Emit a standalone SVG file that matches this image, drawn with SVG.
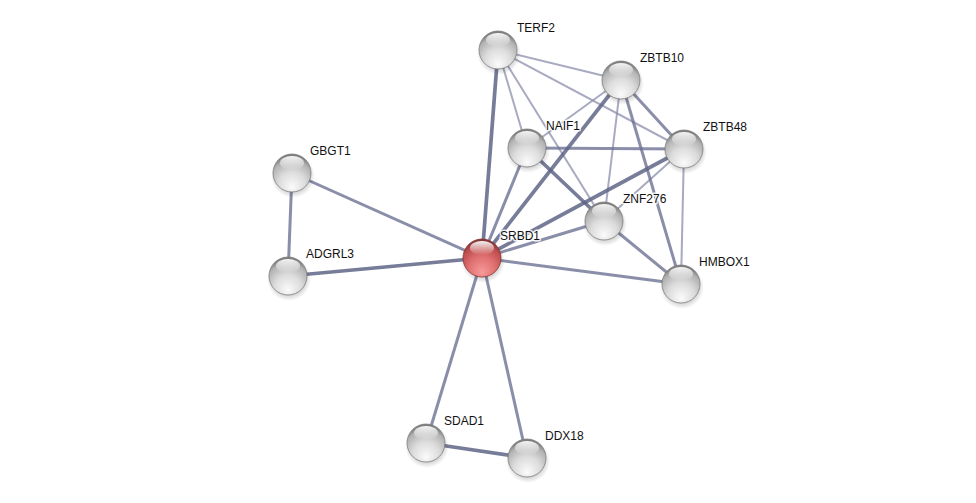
<svg xmlns="http://www.w3.org/2000/svg" width="976" height="503" viewBox="0 0 976 503">
<defs>
<radialGradient id="gw" cx="50%" cy="75%" r="70%" fx="50%" fy="88%">
<stop offset="0" stop-color="#fbfbfb"/>
<stop offset="0.5" stop-color="#dcdcdc"/>
<stop offset="0.85" stop-color="#b2b2b2"/>
<stop offset="1" stop-color="#7e7e7e"/>
</radialGradient>
<radialGradient id="gr" cx="50%" cy="75%" r="70%" fx="50%" fy="88%">
<stop offset="0" stop-color="#f79a9a"/>
<stop offset="0.5" stop-color="#e07070"/>
<stop offset="0.85" stop-color="#bd4d4d"/>
<stop offset="1" stop-color="#873535"/>
</radialGradient>
<linearGradient id="hl" x1="0" y1="0" x2="0" y2="1">
<stop offset="0" stop-color="#ffffff" stop-opacity="0.95"/>
<stop offset="1" stop-color="#ffffff" stop-opacity="0"/>
</linearGradient>
<radialGradient id="sh" cx="50%" cy="50%" r="50%">
<stop offset="0.6" stop-color="#000" stop-opacity="0.25"/>
<stop offset="1" stop-color="#000" stop-opacity="0"/>
</radialGradient>
</defs>
<style>
.e{fill:none;stroke-linecap:butt}
.t1{stroke:#5f6586;stroke-width:3.7;stroke-opacity:0.85}
.t2{stroke:#6d7292;stroke-width:3;stroke-opacity:0.8}
.t3{stroke:#8a8eab;stroke-width:2;stroke-opacity:0.75}
.lbl{font-family:"Liberation Sans",Arial,sans-serif;font-size:12px;fill:#111;stroke:#fff;stroke-width:3;stroke-opacity:0.85;paint-order:stroke;stroke-linejoin:round}
.s{fill:url(#sh)}
.w{fill:url(#gw);stroke:#7e7e7e;stroke-width:0.8}
.r{fill:url(#gr);stroke:#873535;stroke-width:0.8}
.h{fill:url(#hl)}
</style>
<rect width="976" height="503" fill="#ffffff"/>
<g id="connectors">
<line class="e t3" x1="498" y1="50" x2="621" y2="80"/>
<line class="e t3" x1="498" y1="50" x2="684" y2="149"/>
<line class="e t3" x1="498" y1="50" x2="527" y2="148"/>
<line class="e t3" x1="498" y1="50" x2="604" y2="221"/>
<line class="e t3" x1="621" y1="80" x2="527" y2="148"/>
<line class="e t3" x1="621" y1="80" x2="604" y2="221"/>
<line class="e t3" x1="684" y1="149" x2="604" y2="221"/>
<line class="e t3" x1="684" y1="149" x2="681" y2="284"/>
<line class="e t2" x1="621" y1="80" x2="684" y2="149"/>
<line class="e t2" x1="621" y1="80" x2="681" y2="284"/>
<line class="e t2" x1="527" y1="148" x2="684" y2="149"/>
<line class="e t2" x1="527" y1="148" x2="482" y2="258"/>
<line class="e t2" x1="604" y1="221" x2="482" y2="258"/>
<line class="e t2" x1="604" y1="221" x2="681" y2="284"/>
<line class="e t2" x1="482" y1="258" x2="681" y2="284"/>
<line class="e t2" x1="482" y1="258" x2="292" y2="173"/>
<line class="e t2" x1="292" y1="173" x2="288" y2="276"/>
<line class="e t2" x1="482" y1="258" x2="426" y2="443"/>
<line class="e t2" x1="482" y1="258" x2="527" y2="458"/>
<line class="e t1" x1="498" y1="50" x2="482" y2="258"/>
<line class="e t1" x1="621" y1="80" x2="482" y2="258"/>
<line class="e t1" x1="684" y1="149" x2="482" y2="258"/>
<line class="e t1" x1="527" y1="148" x2="604" y2="221"/>
<line class="e t1" x1="482" y1="258" x2="288" y2="276"/>
<line class="e t1" x1="426" y1="443" x2="527" y2="458"/>
</g>
<g id="TERF2"><circle class="s" cx="499" cy="53" r="22"/><circle class="w" cx="498" cy="50" r="19"/><ellipse class="h" cx="498" cy="40" rx="12" ry="7"/><text class="lbl" x="517" y="32">TERF2</text></g>
<g id="ZBTB10"><circle class="s" cx="622" cy="83" r="22"/><circle class="w" cx="621" cy="80" r="19"/><ellipse class="h" cx="621" cy="70" rx="12" ry="7"/><text class="lbl" x="640" y="62">ZBTB10</text></g>
<g id="NAIF1"><circle class="s" cx="528" cy="151" r="22"/><circle class="w" cx="527" cy="148" r="19"/><ellipse class="h" cx="527" cy="138" rx="12" ry="7"/><text class="lbl" x="546" y="130">NAIF1</text></g>
<g id="ZBTB48"><circle class="s" cx="685" cy="152" r="22"/><circle class="w" cx="684" cy="149" r="19"/><ellipse class="h" cx="684" cy="139" rx="12" ry="7"/><text class="lbl" x="703" y="131">ZBTB48</text></g>
<g id="GBGT1"><circle class="s" cx="293" cy="176" r="22"/><circle class="w" cx="292" cy="173" r="19"/><ellipse class="h" cx="292" cy="163" rx="12" ry="7"/><text class="lbl" x="310" y="155">GBGT1</text></g>
<g id="ZNF276"><circle class="s" cx="605" cy="224" r="22"/><circle class="w" cx="604" cy="221" r="19"/><ellipse class="h" cx="604" cy="211" rx="12" ry="7"/><text class="lbl" x="623" y="203">ZNF276</text></g>
<g id="SRBD1"><circle class="s" cx="483" cy="261" r="22"/><circle class="r" cx="482" cy="258" r="19"/><ellipse class="h" cx="482" cy="248" rx="12" ry="7"/><text class="lbl" x="500" y="240">SRBD1</text></g>
<g id="ADGRL3"><circle class="s" cx="289" cy="279" r="22"/><circle class="w" cx="288" cy="276" r="19"/><ellipse class="h" cx="288" cy="266" rx="12" ry="7"/><text class="lbl" x="306" y="258">ADGRL3</text></g>
<g id="HMBOX1"><circle class="s" cx="682" cy="287" r="22"/><circle class="w" cx="681" cy="284" r="19"/><ellipse class="h" cx="681" cy="274" rx="12" ry="7"/><text class="lbl" x="699" y="266">HMBOX1</text></g>
<g id="SDAD1"><circle class="s" cx="427" cy="446" r="22"/><circle class="w" cx="426" cy="443" r="19"/><ellipse class="h" cx="426" cy="433" rx="12" ry="7"/><text class="lbl" x="444" y="425">SDAD1</text></g>
<g id="DDX18"><circle class="s" cx="528" cy="461" r="22"/><circle class="w" cx="527" cy="458" r="19"/><ellipse class="h" cx="527" cy="448" rx="12" ry="7"/><text class="lbl" x="545" y="440">DDX18</text></g>
</svg>
